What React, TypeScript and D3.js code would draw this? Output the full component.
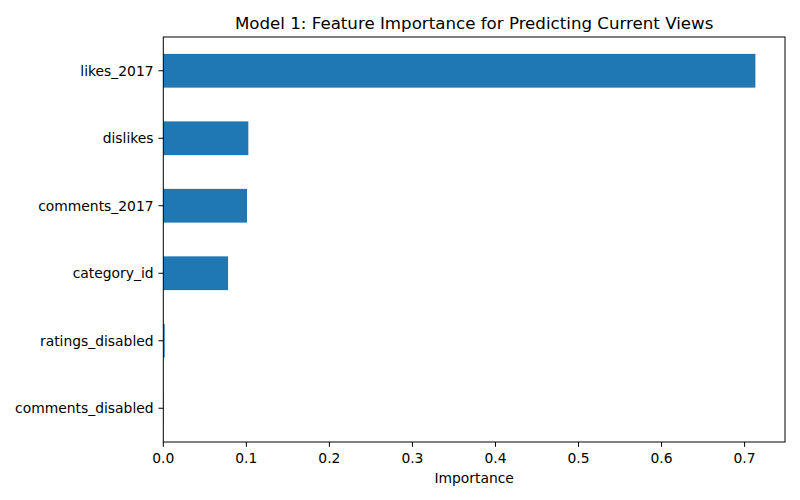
import React from "react";
import * as d3 from "d3";

const features = ["comments_disabled", "ratings_disabled", "category_id", "comments_2017", "dislikes", "likes_2017"];
const importance = [0.0002, 0.0017, 0.078, 0.1008, 0.1024, 0.713];
const xTicks = [0, 0.1, 0.2, 0.3, 0.4, 0.5, 0.6, 0.7];
const title = "Model 1: Feature Importance for Predicting Current Views";
const xLabel = "Importance";

const W = 800, H = 500;
const m = { left: 163.3, right: 785, top: 37, bottom: 442 };
const font = "DejaVu Sans, sans-serif";
const fs = 13.89;

export default function App() {
  const maxV = d3.max(importance) as number;
  const x = d3.scaleLinear().domain([0, maxV * 1.05]).range([m.left, m.right]);
  const n = features.length;
  const y = d3.scaleLinear().domain([-0.5, n - 0.5]).range([m.bottom, m.top]);
  const barH = Math.abs(y(0.25) - y(-0.25));
  return (
    <svg width={W} height={H} style={{ position: "absolute", left: 0, top: 0, background: "#fff" }}>
      <rect x={0} y={0} width={W} height={H} fill="#fff" />
      {features.map((f, i) => (
        <rect key={f} x={x(0)} y={y(i) - barH / 2} width={Math.max(0, x(importance[i]) - x(0))} height={barH} fill="#1f77b4" />
      ))}
      <rect x={m.left} y={m.top} width={m.right - m.left} height={m.bottom - m.top} fill="none" stroke="#000" strokeWidth={1} />
      {xTicks.map((t) => (
        <g key={t}>
          <line x1={x(t)} x2={x(t)} y1={m.bottom} y2={m.bottom + 4.86} stroke="#000" strokeWidth={1} />
          <text x={x(t)} y={m.bottom + 21} textAnchor="middle" fontFamily={font} fontSize={fs} fill="#000">
            {t.toFixed(1)}
          </text>
        </g>
      ))}
      {features.map((f, i) => (
        <g key={f}>
          <line x1={m.left - 4.86} x2={m.left} y1={y(i)} y2={y(i)} stroke="#000" strokeWidth={1} />
          <text x={m.left - 9.7} y={y(i)} dy="0.35em" textAnchor="end" fontFamily={font} fontSize={fs} fill="#000">
            {f}
          </text>
        </g>
      ))}
      <text x={(m.left + m.right) / 2} y={m.top - 8} textAnchor="middle" fontFamily={font} fontSize={16.67} fill="#000">
        {title}
      </text>
      <text x={(m.left + m.right) / 2} y={483} textAnchor="middle" fontFamily={font} fontSize={fs} fill="#000">
        {xLabel}
      </text>
    </svg>
  );
}
